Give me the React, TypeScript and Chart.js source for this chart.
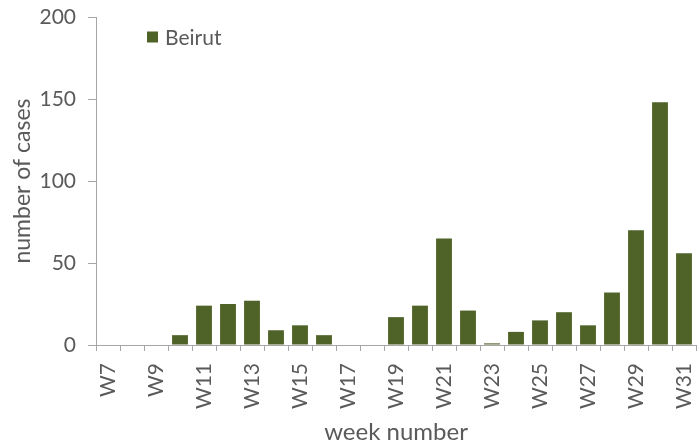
import React, { useEffect, useRef } from "react";
import { Chart, registerables } from "chart.js";

Chart.register(...registerables);

const weeks: string[] = [
  "W7", "W8", "W9", "W10", "W11", "W12", "W13", "W14", "W15", "W16",
  "W17", "W18", "W19", "W20", "W21", "W22", "W23", "W24", "W25", "W26",
  "W27", "W28", "W29", "W30", "W31",
];
const beirutCases: number[] = [
  0, 0, 0, 6, 24, 25, 27, 9, 12, 6,
  0, 0, 17, 24, 65, 21, 1, 8, 15, 20,
  12, 32, 70, 148, 56,
];
const yTicks: number[] = [0, 50, 100, 150, 200];
const seriesName = "Beirut";
const xTitle = "week number";
const yTitle = "number of cases";

const FONT = "Lato, 'Open Sans', sans-serif";
const TEXT = "#5a5a5a";
const AXIS = "#a6a6a6";
const BAR = "#4f6228";

const insideLegend = {
  id: "insideLegend",
  afterDraw(chart: any) {
    const ctx = chart.ctx as CanvasRenderingContext2D;
    const ds = chart.data.datasets[0];
    const x = 147;
    const y = 37;
    ctx.save();
    ctx.fillStyle = ds.backgroundColor as string;
    ctx.fillRect(x, y - 5.5, 11, 11);
    ctx.fillStyle = TEXT;
    ctx.font = `21px ${FONT}`;
    ctx.textBaseline = "middle";
    ctx.textAlign = "left";
    ctx.fillText(ds.label, x + 18, y + 1);
    ctx.restore();
  },
};

export default function App() {
  const ref = useRef<HTMLCanvasElement | null>(null);

  useEffect(() => {
    if (!ref.current) return;
    const chart = new Chart(ref.current, {
      type: "bar",
      data: {
        labels: weeks,
        datasets: [
          {
            label: seriesName,
            data: beirutCases,
            backgroundColor: BAR,
            borderWidth: 0,
            categoryPercentage: 1,
            barPercentage: 0.66,
          },
        ],
      },
      options: {
        animation: false,
        responsive: false,
        maintainAspectRatio: false,
        layout: { padding: { top: 17, right: 1, left: 0, bottom: 0 } },
        plugins: {
          legend: { display: false },
          tooltip: { enabled: false },
        },
        scales: {
          x: {
            afterFit(scale: any) {
              scale.height = 103;
              scale.paddingLeft = 0;
              scale.paddingRight = 0;
            },
            grid: {
              display: true,
              drawOnChartArea: false,
              drawTicks: true,
              tickLength: 6,
              color: AXIS,
              offset: true,
            },
            border: { display: true, color: AXIS, width: 1 },
            ticks: {
              autoSkip: false,
              maxRotation: 90,
              minRotation: 90,
              padding: 12,
              color: TEXT,
              font: { family: FONT, size: 21 },
              callback: (_v: any, i: number) => (i % 2 === 0 ? weeks[i] : ""),
            },
            title: {
              display: true,
              text: xTitle,
              color: TEXT,
              font: { family: FONT, size: 24 },
              padding: { top: 0, bottom: 1 },
            },
          },
          y: {
            min: 0,
            max: 200,
            afterFit(scale: any) {
              scale.width = 96;
              scale.paddingTop = 0;
              scale.paddingBottom = 0;
            },
            afterBuildTicks(scale: any) {
              scale.ticks = yTicks.map((v) => ({ value: v }));
            },
            grid: {
              display: true,
              drawOnChartArea: false,
              drawTicks: true,
              tickLength: 8,
              color: AXIS,
            },
            border: { display: true, color: AXIS, width: 1 },
            ticks: {
              padding: 12,
              color: TEXT,
              font: { family: FONT, size: 21 },
            },
            title: {
              display: true,
              text: yTitle,
              color: TEXT,
              font: { family: FONT, size: 23 },
              padding: { top: 9, bottom: 0 },
            },
          },
        },
      },
      plugins: [insideLegend],
    });
    return () => chart.destroy();
  }, []);

  return (
    <div style={{ position: "fixed", left: 0, top: 0, width: 697, height: 448, background: "#fff" }}>
      <canvas ref={ref} width={697} height={448} style={{ width: 697, height: 448 }} />
    </div>
  );
}
